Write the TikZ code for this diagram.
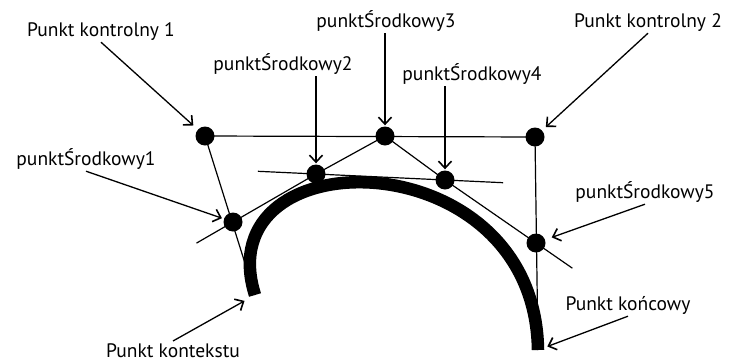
\documentclass[tikz,border=0pt]{standalone}
\usepackage{fontspec}
\setmainfont{PT Sans}
\usetikzlibrary{arrows.meta,calc}
\tikzstyle{punkt} = [circle, fill=black, inner sep=0pt, minimum size=19pt]
\tikzstyle{opis} = [anchor=base, inner sep=2pt, font=\fontsize{19.5}{22}\selectfont]
\tikzstyle{linia} = [draw, line width=1.2pt]
\tikzstyle{krzywa} = [draw, line width=12.5pt]
\tikzstyle{strzalka} = [draw, line width=1.3pt,
    -{Straight Barb[length=7pt,width=13pt,line width=1.6pt]}]

\begin{document}
\begin{tikzpicture}[x=1pt, y=-1pt]
    \useasboundingbox (0,0) rectangle (731,362);
    % Place points
    \coordinate (start) at (255,295);
    \coordinate (koniec) at (538,350);
    \node [punkt] (kontrolny1) at (205,136) {};
    \node [punkt] (kontrolny2) at (535,137) {};
    \node [punkt] (srodkowy1) at (233,222) {};
    \node [punkt] (srodkowy2) at (316,174) {};
    \node [punkt] (srodkowy3) at (385,136) {};
    \node [punkt] (srodkowy4) at (445,180) {};
    \node [punkt] (srodkowy5) at (536,243) {};
    % Place labels
    \node [opis] (opisK1) at (101,36) {Punkt kontrolny 1};
    \node [opis] (opisK2) at (648,27) {Punkt kontrolny 2};
    \node [opis] (opisS1) at (86,165) {punktŚrodkowy1};
    \node [opis] (opisS2) at (283,70) {punktŚrodkowy2};
    \node [opis] (opisS3) at (386,27) {punktŚrodkowy3};
    \node [opis] (opisS4) at (472,80) {punktŚrodkowy4};
    \node [opis] (opisS5) at (645,198) {punktŚrodkowy5};
    \node [opis] (opisPK) at (173,357) {Punkt kontekstu};
    \node [opis] (opisKN) at (628,310) {Punkt końcowy};
    % Draw construction lines
    \path [linia] (kontrolny1.center) -- (kontrolny2.center);
    \path [linia] (kontrolny1.center) -- (start);
    \path [linia] (kontrolny2.center) -- (koniec);
    \path [linia] (srodkowy3.center) -- (srodkowy2.center);
    \path [linia] (srodkowy3.center) -- (srodkowy4.center);
    \path [linia] (srodkowy2.center) -- ($(srodkowy2)!1.44!(srodkowy1)$);
    \path [linia] ($(srodkowy4)!1.45!(srodkowy2)$) -- ($(srodkowy2)!1.45!(srodkowy4)$);
    \path [linia] (srodkowy4.center) -- ($(srodkowy4)!1.4!(srodkowy5)$);
    % Draw the curve
    \path [krzywa] (start) .. controls (kontrolny1.center) and (kontrolny2.center) .. (koniec);
    % Draw arrows
    \path [strzalka, shorten >=6pt] (opisK1.south) -- (kontrolny1);
    \path [strzalka, shorten >=5pt] (opisK2.south) -- (kontrolny2);
    \path [strzalka, shorten >=2pt] (opisS1.south) -- (srodkowy1);
    \path [strzalka, shorten >=1pt] (opisS2.south -| srodkowy2) -- (srodkowy2);
    \path [strzalka, shorten >=1pt] (opisS3.south -| srodkowy3) -- (srodkowy3);
    \path [strzalka, shorten >=1pt] (opisS4.south -| srodkowy4) -- (srodkowy4);
    \path [strzalka, shorten >=7pt] (opisS5.south) -- (srodkowy5);
    \path [strzalka, shorten >=12pt] (opisPK.north) -- (start);
    \path [strzalka, shorten >=10pt] (opisKN.south) -- (koniec);
\end{tikzpicture}
\end{document}
